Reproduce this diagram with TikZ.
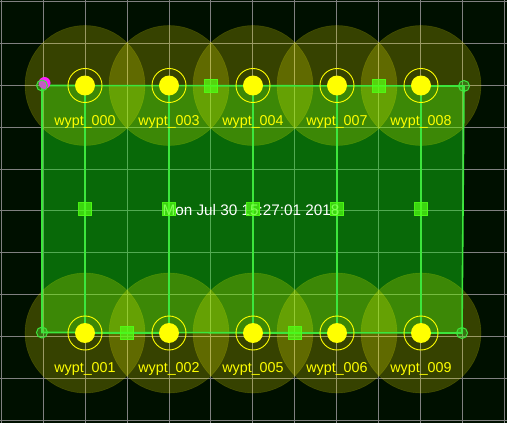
\documentclass[tikz,border=0pt]{standalone}
\usepackage{fontspec}
\setmainfont{Liberation Sans}
\usetikzlibrary{calc}
\definecolor{bg}{HTML}{001000}
\definecolor{gridc}{HTML}{808080}
\definecolor{area}{HTML}{14E614}
\definecolor{edge}{HTML}{3CE63C}
\definecolor{wp}{HTML}{FFFF00}
\definecolor{mid}{HTML}{50FF14}
\definecolor{home}{HTML}{FF20FF}

\begin{document}
\begin{tikzpicture}[
    x=1pt, y=-1pt,
    every node/.style={font=\fontsize{14.3}{16}\selectfont},
    gridline/.style={gridc, line width=0.8pt},
    reach/.style={fill=wp, fill opacity=0.21, draw=wp, draw opacity=0.12, line width=0.6pt},
    track/.style={edge, line width=1.6pt},
    ring/.style={wp, line width=0.9pt},
    lab/.style={text=wp, anchor=base},
    stamp/.style={text=white, anchor=base, font=\fontsize{15.3}{17}\selectfont},
    midbox/.style={rectangle, minimum size=13pt, inner sep=0pt, fill=mid, fill opacity=0.72,
        draw=mid, draw opacity=0.9, line width=0.6pt},
    cornerc/.style={edge, line width=1pt, fill=edge, fill opacity=0.3},
]

% ============================================================ canvas and grid
\fill[bg] (0,0) rectangle (507,423);
\useasboundingbox (0,0) rectangle (507,423);
\foreach \i in {0,...,12}{
    \draw[gridline] ({1.3+41.9*\i},0) -- ({1.3+41.9*\i},423);
}
\foreach \j in {0,...,10}{
    \draw[gridline] (0,{1.7+41.83*\j}) -- (507,{1.7+41.83*\j});
}

% ============================================================ points
\coordinate (c1) at (42,85.5);
\coordinate (c2) at (464,86);
\coordinate (c3) at (462,333);
\coordinate (c4) at (42,332.5);

\coordinate (w000) at (85,85.5);
\coordinate (w003) at (169,85.5);
\coordinate (w004) at (253,85.5);
\coordinate (w007) at (337,85.5);
\coordinate (w008) at (421,85.5);
\coordinate (w001) at (85,333);
\coordinate (w002) at (169,333);
\coordinate (w005) at (253,333);
\coordinate (w006) at (337,333);
\coordinate (w009) at (421,333);

% ============================================================ the survey area
\fill[area, fill opacity=0.42] (c1) -- (c2) -- (c3) -- (c4) -- cycle;

% reach of each waypoint
\foreach \w in {w000,w001,w002,w003,w004,w005,w006,w007,w008,w009}{
    \fill[reach] (\w) circle (60pt);
}

\draw[track] (c1) -- (c2) -- (c3) -- (c4) -- cycle;

% the lawnmower track
\draw[track] (w000) -- (w001) -- (w002) -- (w003) -- (w004)
    -- (w005) -- (w006) -- (w007) -- (w008) -- (w009);

% ============================================================ waypoints
\foreach \w in {w000,w001,w002,w003,w004,w005,w006,w007,w008,w009}{
    \fill[wp] (\w) circle (10pt);
    \draw[ring] (\w) circle (17pt);
}
\foreach \w/\t in {w000/wypt\_000, w003/wypt\_003, w004/wypt\_004, w007/wypt\_007, w008/wypt\_008,
                   w001/wypt\_001, w002/wypt\_002, w005/wypt\_005, w006/wypt\_006, w009/wypt\_009}{
    \node[lab] (l\w) at ([yshift=-39.5pt]\w) {\t};
}

\node[stamp] (stamp) at (251,215) {Mon Jul 30 15:27:01 2018};

% ============================================================ segment midpoints
\foreach \a/\b [count=\k] in {w000/w001, w001/w002, w002/w003, w003/w004, w004/w005,
                              w005/w006, w006/w007, w007/w008, w008/w009}{
    \node[midbox] (m\k) at ($(\a)!0.5!(\b)$) {};
}

% ============================================================ corners
\fill[home] (44.5,83) circle (6pt);
\foreach \c in {c1,c2,c3,c4}{
    \draw[cornerc] (\c) circle (5.5pt);
}

\end{tikzpicture}
\end{document}
